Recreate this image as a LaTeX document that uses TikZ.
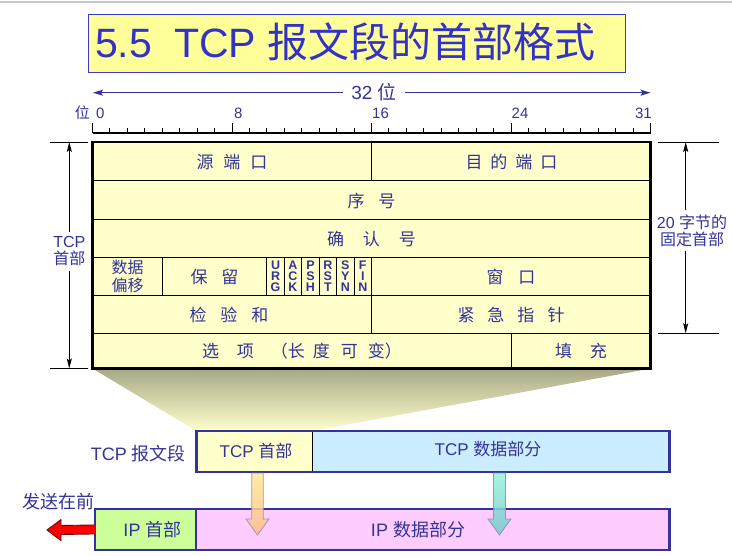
\documentclass[tikz,border=0pt]{standalone}
\usepackage{fontspec}
\setmainfont{Liberation Sans}
\newfontfamily\cjk{Noto Sans CJK SC}
\usetikzlibrary{arrows.meta,calc}
\definecolor{txtblue}{RGB}{51,51,153}
\definecolor{titleblue}{RGB}{50,50,200}
\definecolor{titleborder}{RGB}{60,60,200}
\definecolor{titlefill}{RGB}{255,255,153}
\definecolor{tablefill}{RGB}{255,255,204}
\definecolor{boxborder}{RGB}{51,51,153}
\definecolor{tcpdata}{RGB}{204,236,255}
\definecolor{ipdata}{RGB}{255,204,255}
\definecolor{iphead}{RGB}{204,255,153}
\definecolor{shadetop}{RGB}{168,168,136}
\definecolor{shademid}{RGB}{238,238,186}
\definecolor{orangetop}{RGB}{255,232,150}
\definecolor{orangebot}{RGB}{255,190,140}
\definecolor{tealtop}{RGB}{150,242,220}
\definecolor{tealbot}{RGB}{120,200,205}
\definecolor{arrowedge}{RGB}{140,140,175}
\begin{document}
\begin{tikzpicture}[x=1pt,y=-1pt,
  tcell/.style={text=txtblue, font=\cjk\fontsize{17}{20}\selectfont, inner sep=0pt},
  flag/.style={text=txtblue, font=\fontsize{12.5}{11}\selectfont\bfseries, align=center, inner sep=0pt},
  lbl/.style={text=txtblue, inner sep=0pt},
  ruler/.style={text=txtblue, font=\fontsize{15}{17}\selectfont, inner sep=0pt},
  dimarrow/.style={draw=black, line width=0.9pt, -{Stealth[length=10pt,width=5pt,inset=2pt]}},
  bluearrow/.style={draw=txtblue, line width=0.9pt, -{Stealth[length=10pt,width=6pt,inset=2pt]}},
  guide/.style={draw=black, line width=0.9pt},
  cellline/.style={draw=black, line width=1pt},
  boxnode/.style={draw=none, inner sep=0pt, anchor=north west},
  boxlbl/.style={text=txtblue, inner sep=0pt, font=\fontsize{17}{20}\selectfont}
]
\useasboundingbox (0,0) rectangle (732,556);
% top gray rule
\draw[black!22, line width=1.5pt] (0,2) -- (732,2);

% title
\node[draw=titleborder, fill=titlefill, line width=0.9pt, minimum width=537pt, minimum height=58pt, anchor=north west, inner sep=0pt] (titlebox) at (88,14) {};
\node[anchor=base west, text=titleblue, font=\fontsize{41}{45}\selectfont, inner sep=0pt] (title) at (95,58) {5.5\hspace{22pt}TCP {\cjk 报文段的首部格式}};

% 32 bit arrow
\coordinate (a32l) at (93,92.7);
\coordinate (a32r) at (650.5,92.7);
\node[lbl, font=\fontsize{19}{21}\selectfont, anchor=base, inner xsep=8pt] (t32) at (374,99.5) {32 {\cjk 位}};
\draw[bluearrow] (a32l -| t32.west) -- (a32l);
\draw[bluearrow] (a32r -| t32.east) -- (a32r);

% ruler
\draw[line width=1.2pt] (92.5,133) -- (650.5,133);
\foreach \i in {0,...,32}{
  \pgfmathparse{mod(\i,8)==0 ? 10 : 5}\let\tl\pgfmathresult
  \draw[line width=1pt] ({92.5+\i*17.4375},133) -- ++(0,-\tl);
}
\node[ruler, anchor=base east, font=\cjk\fontsize{15}{17}\selectfont] (wei) at (90,118.5) {位};
\node[ruler, anchor=base west] (r0) at (96,119) {0};
\node[ruler, anchor=base west] (r8) at (234,119) {8};
\node[ruler, anchor=base west] (r16) at (372,119) {16};
\node[ruler, anchor=base west] (r24) at (511.5,119) {24};
\node[ruler, anchor=base east] (r31) at (652,119) {31};

% projection shadow
\path[top color=shadetop, middle color=shademid, bottom color=tablefill]
  (92.5,368.5) -- (650.5,368.5) -- (312.5,431) -- (196.5,431) -- cycle;

% header table
\fill[tablefill] (92.5,142) rectangle (650.5,368.5);
\foreach \yy in {181,219.3,257.3,295.3,333.3}{
  \draw[cellline] (92.5,\yy) -- (650.5,\yy);
}
\draw[cellline] (371.5,142) -- (371.5,181);
\foreach \b in {4,10,11,12,13,14,15,16}{
  \draw[cellline] ({92.5+\b*17.4375},257.3) -- ({92.5+\b*17.4375},295.3);
}
\draw[cellline] (371.5,295.3) -- (371.5,333.3);
\draw[cellline] (511,333.3) -- (511,368.5);
\draw[line width=2.6pt] (92.5,142) rectangle (650.5,368.5);

\node[tcell] (src) at (232,162.5) {源\hspace{10pt}端\hspace{10pt}口};
\node[tcell] (dst) at (511.5,162.5) {目\hspace{8pt}的\hspace{8pt}端\hspace{8pt}口};
\node[tcell] (seq) at (371.5,201) {序\hspace{14pt}号};
\node[tcell] (ack) at (371.5,239) {确\hspace{19pt}认\hspace{19pt}号};
\node[tcell, align=center, font=\cjk\fontsize{16}{18}\selectfont] (off) at (127.5,276.5) {数据\\偏移};
\node[tcell] (rsv) at (214.5,277) {保\hspace{14pt}留};
\node[flag] (furg) at (275.6,276.5) {U\\R\\G};
\node[flag] (fack) at (293.0,276.5) {A\\C\\K};
\node[flag] (fpsh) at (310.5,276.5) {P\\S\\H};
\node[flag] (frst) at (327.9,276.5) {R\\S\\T};
\node[flag] (fsyn) at (345.3,276.5) {S\\Y\\N};
\node[flag] (ffin) at (362.8,276.5) {F\\I\\N};
\node[tcell] (win) at (511,277) {窗\hspace{15pt}口};
\node[tcell] (chk) at (229,315) {检\hspace{14pt}验\hspace{14pt}和};
\node[tcell] (urg) at (511,315) {紧\hspace{13pt}急\hspace{13pt}指\hspace{13pt}针};
\node[tcell] (opt) at (302,351.5) {选\hspace{18pt}项\hspace{17pt}（长\hspace{8pt}度\hspace{11pt}可\hspace{10pt}变）};
\node[tcell] (pad) at (581,351.5) {填\hspace{18pt}充};

% left dimension: TCP header
\draw[guide] (50,142) -- (88,142);
\draw[guide] (50,368.5) -- (88,368.5);
\node[lbl, align=center, font=\fontsize{16}{17}\selectfont, inner ysep=5pt] (lhdr) at (69.3,251.5) {TCP\\{\cjk 首部}};
\coordinate (ltop) at (69.3,142);
\coordinate (lbot) at (69.3,368.5);
\draw[dimarrow] (lhdr.north) -- (ltop);
\draw[dimarrow] (lhdr.south) -- (lbot);

% right dimension: 20 bytes
\draw[guide] (658,142) -- (719,142);
\draw[guide] (658,333.3) -- (719,333.3);
\node[lbl, align=center, font=\fontsize{16}{17}\selectfont, inner ysep=4pt] (rhdr) at (692,230.5) {20 {\cjk 字节的}\\{\cjk 固定首部}};
\coordinate (rtop) at (685.7,142);
\coordinate (rbot) at (685.7,333.3);
\draw[dimarrow] (rtop |- rhdr.north) -- (rtop);
\draw[dimarrow] (rbot |- rhdr.south) -- (rbot);

% TCP segment
\node[boxnode, fill=tablefill, minimum width=116pt, minimum height=41pt] (tcph) at (196.5,431) {};
\node[boxnode, fill=tcpdata, minimum width=356.5pt, minimum height=41pt] (tcpd) at (312.5,431) {};
\draw[line width=1pt, black] (tcph.north east) -- (tcph.south east);
\draw[draw=boxborder, line width=2.2pt] (tcph.north west) rectangle (tcpd.south east);
\node[lbl, anchor=east, font=\fontsize{18}{21}\selectfont] (tcpseg) at (186,454) {TCP {\cjk 报文段}};
\node[boxlbl] (tcphl) at (256,451) {TCP {\cjk 首部}};
\node[boxlbl] (tcpdl) at (488,449.5) {TCP {\cjk 数据部分}};

% IP datagram
\node[boxnode, fill=iphead, minimum width=101pt, minimum height=40.5pt] (iph) at (95,509) {};
\node[boxnode, fill=ipdata, minimum width=473pt, minimum height=40.5pt] (ipd) at (196,509) {};
\draw[draw=boxborder, line width=2pt] (iph.north east) -- (iph.south east);
\draw[draw=boxborder, line width=2.2pt] (iph.north west) rectangle (ipd.south east);
\node[boxlbl, font=\fontsize{18}{21}\selectfont] (iphl) at (152.5,530) {IP {\cjk 首部}};
\node[boxlbl, font=\fontsize{18}{21}\selectfont] (ipdl) at (418,529.5) {IP {\cjk 数据部分}};

% send-first label and red arrow
\node[lbl, font=\cjk\fontsize{18}{21}\selectfont] (send) at (58.5,502) {发送在前};
\coordinate (redtip) at (47,530);
\path[draw=red!45!black, fill=red, line width=0.9pt]
  ($(iph.west)+(0,-4.5)$) -- ($(redtip)+(14,-4.5)$) -- ($(redtip)+(14,-10.5)$) -- (redtip)
  -- ($(redtip)+(14,10.5)$) -- ($(redtip)+(14,4.5)$) -- ($(iph.west)+(0,4.5)$);

% down arrows
\path[draw=arrowedge, line width=0.8pt, top color=orangetop, bottom color=orangebot, opacity=0.85]
  (251.7,473) -- (251.7,519) -- (246,519) -- (257.5,535) -- (269,519) -- (263.3,519) -- (263.3,473) -- cycle;
\path[draw=arrowedge, line width=0.8pt, top color=tealtop, bottom color=tealbot, opacity=0.85]
  (493.5,473) -- (493.5,519) -- (488,519) -- (499.5,535) -- (511,519) -- (505.5,519) -- (505.5,473) -- cycle;
\end{tikzpicture}
\end{document}
